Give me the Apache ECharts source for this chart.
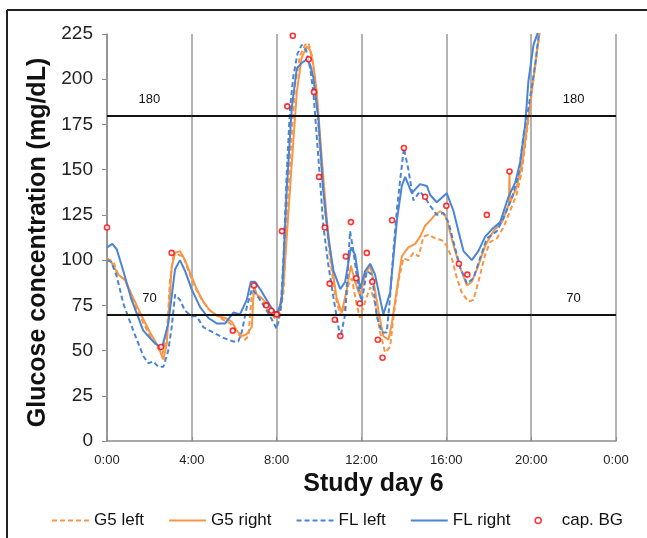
<!DOCTYPE html>
<html>
<head>
<meta charset="utf-8">
<script src="https://cdn.jsdelivr.net/npm/echarts@6/dist/echarts.min.js"></script>
<style>
  html, body { margin: 0; padding: 0; background: #fff; }
  #main { width: 647px; height: 538px; }
</style>
</head>
<body>
<div id="main"></div>
<script>
// hours since midnight of study day 6, glucose in mg/dL
var hourTicks = ['0:00', '4:00', '8:00', '12:00', '16:00', '20:00', '0:00']
var limits = [70, 180]

var g5Left = [
  [0, 101], [0.3, 99], [0.53, 92], [0.85, 89], [1.24, 78], [1.64, 67], [2.03, 58], [2.42, 51], [2.61, 48],
  [2.82, 58], [2.97, 89], [3.13, 102], [3.36, 103], [3.6, 102], [3.84, 94], [4.15, 85], [4.47, 78], [4.78, 73],
  [5.09, 70], [5.49, 67], [5.8, 65], [6.04, 62], [6.27, 58], [6.51, 56], [6.67, 58], [6.83, 82], [7.06, 80],
  [7.3, 78], [7.53, 73], [7.84, 69], [8.08, 65], [8.16, 64], [8.32, 82], [8.47, 119], [8.66, 160], [8.87, 197],
  [9.1, 213], [9.34, 219], [9.5, 220], [9.66, 213], [9.81, 199], [10.05, 160], [10.28, 127], [10.52, 101],
  [10.75, 81], [10.99, 70], [11.15, 70], [11.38, 86], [11.54, 90], [11.78, 75], [11.93, 68], [12.17, 77],
  [12.41, 85], [12.64, 76], [12.88, 60], [13.11, 49], [13.35, 52], [13.51, 69], [13.75, 89], [13.98, 101],
  [14.21, 100], [14.45, 104], [14.69, 102], [14.92, 113], [15.16, 114], [15.47, 112], [15.79, 111],
  [16.02, 108], [16.26, 101], [16.5, 90], [16.73, 82], [17.04, 77], [17.28, 78], [17.51, 88], [17.83, 103],
  [18.07, 110], [18.38, 112], [18.69, 118], [19.0, 127], [19.31, 136], [19.56, 149], [19.8, 171],
  [20.03, 193], [20.27, 215], [20.42, 228]
]

var g5Right = [
  [0, 101], [0.2, 99], [0.53, 92], [0.85, 89], [1.24, 79], [1.64, 69], [2.03, 60], [2.42, 52], [2.66, 45],
  [2.82, 54], [3.05, 96], [3.21, 104], [3.44, 105], [3.68, 100], [3.92, 93], [4.23, 84], [4.54, 77], [4.86, 72],
  [5.25, 69], [5.57, 68], [5.88, 66], [6.12, 61], [6.35, 58], [6.59, 59], [6.83, 63], [6.93, 86], [7.06, 81],
  [7.3, 79], [7.61, 75], [7.84, 72], [8.08, 70], [8.16, 70], [8.32, 86], [8.47, 112], [8.71, 153], [8.95, 193],
  [9.18, 212], [9.42, 218], [9.58, 216], [9.73, 208], [9.89, 193], [10.13, 156], [10.36, 123], [10.6, 97],
  [10.83, 79], [11.07, 71], [11.31, 84], [11.5, 97], [11.7, 88], [11.93, 80], [12.17, 92], [12.41, 97],
  [12.56, 89], [12.8, 72], [13.03, 58], [13.27, 56], [13.43, 65], [13.67, 84], [13.9, 102], [14.21, 107],
  [14.53, 109], [14.76, 113], [15.0, 119], [15.24, 122], [15.47, 125], [15.71, 127], [15.94, 125],
  [16.1, 119], [16.34, 108], [16.65, 96], [16.97, 86], [17.2, 88], [17.51, 97], [17.83, 108], [18.22, 116],
  [18.62, 121], [18.95, 131], [18.98, 149], [19.0, 132], [19.31, 140], [19.56, 153], [19.8, 173],
  [20.03, 193], [20.27, 215], [20.42, 228]
]

var flLeft = [
  [0, 100], [0.2, 99], [0.46, 91], [0.77, 76], [1.24, 61], [1.71, 47], [1.95, 43], [2.18, 44], [2.42, 41],
  [2.66, 41], [2.89, 50], [3.05, 63], [3.21, 81], [3.44, 78], [3.68, 72], [3.99, 69], [4.23, 69], [4.54, 63],
  [5.01, 60], [5.49, 57], [5.96, 55], [6.19, 55], [6.35, 60], [6.59, 74], [6.83, 84], [7.06, 81], [7.37, 75],
  [7.69, 69], [8.0, 62], [8.19, 73], [8.32, 101], [8.47, 147], [8.63, 184], [8.79, 202], [8.98, 214],
  [9.18, 219], [9.39, 216], [9.58, 206], [9.73, 193], [9.97, 156], [10.2, 119], [10.44, 97], [10.68, 79],
  [11.0, 57], [11.23, 70], [11.46, 116], [11.62, 105], [11.86, 84], [12.01, 77], [12.25, 94], [12.49, 92],
  [12.72, 69], [12.96, 60], [13.19, 60], [13.35, 80], [13.51, 106], [13.67, 128], [13.82, 144], [14.0, 162],
  [14.21, 150], [14.45, 133], [14.76, 138], [15.08, 133], [15.24, 130], [15.55, 125], [15.86, 126],
  [16.1, 121], [16.34, 110], [16.65, 96], [16.97, 87], [17.28, 90], [17.59, 101], [17.91, 112],
  [18.38, 116], [18.69, 123], [19.08, 134], [19.4, 147], [19.64, 169], [19.87, 184], [20.19, 208],
  [20.35, 224], [20.42, 230]
]

var flRight = [
  [0, 107], [0.25, 109], [0.46, 106], [0.77, 94], [1.16, 78], [1.71, 61], [2.18, 55], [2.58, 51], [2.89, 65],
  [3.21, 95], [3.44, 100], [3.68, 94], [3.99, 84], [4.39, 74], [4.78, 68], [5.17, 65], [5.57, 65], [5.96, 71],
  [6.27, 70], [6.59, 78], [6.78, 88], [6.98, 88], [7.22, 84], [7.53, 78], [7.84, 72], [8.0, 70], [8.24, 77],
  [8.47, 138], [8.71, 184], [8.95, 206], [9.18, 209], [9.42, 211], [9.58, 208], [9.73, 201], [9.97, 178],
  [10.2, 138], [10.44, 112], [10.68, 94], [11.0, 84], [11.23, 88], [11.5, 107], [11.7, 103], [11.93, 84],
  [12.17, 94], [12.41, 98], [12.64, 92], [13.03, 70], [13.35, 82], [13.67, 122], [13.9, 141], [14.06, 146],
  [14.37, 137], [14.76, 142], [15.08, 141], [15.24, 136], [15.55, 132], [16.02, 137], [16.34, 127],
  [16.57, 116], [16.81, 105], [17.2, 100], [17.51, 105], [17.83, 113], [18.15, 117], [18.54, 121],
  [18.93, 135], [19.25, 143], [19.48, 154], [19.72, 175], [19.87, 199], [20.11, 219], [20.35, 227]
]

var capBG = [
  [0, 118], [2.55, 52], [3.05, 104], [5.93, 61], [6.93, 86], [7.51, 75], [7.75, 72], [8.0, 70], [8.25, 116],
  [8.5, 185], [8.76, 224], [9.51, 211], [9.76, 193], [10.0, 146], [10.27, 118], [10.5, 87], [10.74, 67],
  [11.0, 58], [11.26, 102], [11.5, 121], [11.75, 90], [11.92, 76], [12.25, 104], [12.51, 88], [12.77, 56],
  [12.99, 46], [13.44, 122], [14.0, 162], [15.0, 135], [16.0, 130], [16.59, 98], [16.99, 92], [17.91, 125],
  [18.98, 149]
]

var ORANGE = '#F79646'
var BLUE = '#4A84D4'
var FONT = 'Liberation Sans, Arial, Helvetica, sans-serif'

function limitLine(v) {
  // split in three pieces so the value can be written above both ends
  var lbl = { show: true, position: 'middle', formatter: String(v), color: '#111', fontSize: 13, fontFamily: FONT, distance: 9 }
  return [
    [{ coord: [0, v], label: lbl }, { coord: [4, v] }],
    [{ coord: [4, v], label: { show: false } }, { coord: [20, v] }],
    [{ coord: [20, v], label: lbl }, { coord: [24, v] }]
  ]
}

var chart = echarts.init(document.getElementById('main'))

var noDot = { opacity: 0 }

var option = {
  animation: false,
  backgroundColor: '#fff',
  textStyle: { fontFamily: FONT },
  graphic: [
    { type: 'line', shape: { x1: 7, y1: 10, x2: 647, y2: 10 }, style: { stroke: '#222', lineWidth: 2 } },
    { type: 'line', shape: { x1: 7, y1: 10, x2: 7, y2: 538 }, style: { stroke: '#222', lineWidth: 2 } }
  ],
  grid: { left: 107, right: 31, top: 34, bottom: 97 },
  legend: {
    left: 46,
    top: 507,
    itemWidth: 37,
    itemHeight: 6,
    itemGap: 24,
    textStyle: { fontSize: 17, color: '#111', fontFamily: FONT },
    data: [
      { name: 'G5 left', itemStyle: noDot },
      { name: 'G5 right', itemStyle: noDot },
      { name: 'FL left', itemStyle: noDot },
      { name: 'FL right', itemStyle: noDot },
      { name: 'cap. BG', icon: 'circle', itemStyle: { color: '#fff', borderColor: '#ff0000', borderWidth: 1.5 } }
    ]
  },
  xAxis: {
    type: 'value',
    min: 0,
    max: 24,
    interval: 4,
    name: 'Study day 6',
    nameLocation: 'middle',
    nameGap: 27,
    nameTextStyle: { fontSize: 25, fontWeight: 'bold', color: '#111', fontFamily: FONT, padding: [0, 0, 0, 24] },
    axisLine: { lineStyle: { color: '#8c8c8c', width: 1.5 } },
    axisTick: { show: true, inside: true, length: 4, lineStyle: { color: '#8c8c8c' } },
    axisLabel: {
      fontSize: 13, color: '#222', margin: 13,
      formatter: function (v) { return hourTicks[v / 4] }
    },
    splitLine: { show: true, lineStyle: { color: '#9a9a9a', width: 1.5 } }
  },
  yAxis: {
    type: 'value',
    min: 0,
    max: 225,
    interval: 25,
    name: 'Glucose concentration (mg/dL)',
    nameLocation: 'middle',
    nameGap: 56,
    nameTextStyle: { fontSize: 25, fontWeight: 'bold', color: '#111', fontFamily: FONT, padding: [0, 10, 0, 0] },
    axisLine: { show: true, lineStyle: { color: '#8c8c8c', width: 1.5 } },
    axisTick: { show: true, length: 5, lineStyle: { color: '#8c8c8c' } },
    axisLabel: { fontSize: 19, color: '#222', margin: 14 },
    splitLine: { show: false }
  },
  series: [
    {
      name: 'G5 left', type: 'line', data: g5Left, showSymbol: false, symbol: 'none', z: 3,
      lineStyle: { color: ORANGE, width: 2, type: [5, 3] }, itemStyle: { color: ORANGE },
      markLine: {
        silent: true, symbol: 'none',
        lineStyle: { color: '#111', width: 2, type: 'solid' },
        data: limitLine(limits[0]).concat(limitLine(limits[1]))
      }
    },
    {
      name: 'G5 right', type: 'line', data: g5Right, showSymbol: false, symbol: 'none', z: 3,
      lineStyle: { color: ORANGE, width: 2 }, itemStyle: { color: ORANGE }
    },
    {
      name: 'FL left', type: 'line', data: flLeft, showSymbol: false, symbol: 'none', z: 4,
      lineStyle: { color: BLUE, width: 2, type: [5, 3] }, itemStyle: { color: BLUE }
    },
    {
      name: 'FL right', type: 'line', data: flRight, showSymbol: false, symbol: 'none', z: 4,
      lineStyle: { color: BLUE, width: 2 }, itemStyle: { color: BLUE }
    },
    {
      name: 'cap. BG', type: 'scatter', data: capBG, symbol: 'circle', symbolSize: 5, z: 6,
      itemStyle: { color: '#fff', borderColor: '#ff0000', borderWidth: 1.6 }
    }
  ]
}

chart.setOption(option)
</script>
</body>
</html>
